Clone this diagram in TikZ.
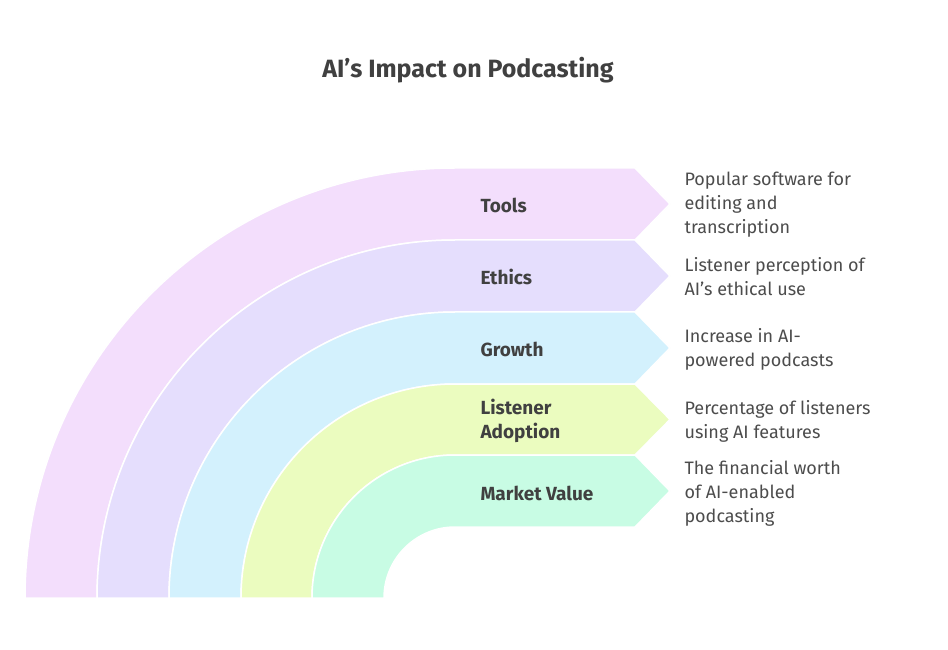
\documentclass[tikz,border=0pt]{standalone}
\usepackage{fontspec}
\setmainfont{Fira Sans}
\begin{document}
\begin{tikzpicture}[x=1pt,y=1pt,
  band/.style={draw=white,line width=1.5pt,line join=round},
  lab/.style={anchor=west,font=\bfseries\fontsize{19}{24}\selectfont,text=black!75,align=left},
  desc/.style={anchor=west,font=\fontsize{18}{24}\selectfont,text=black!70,align=left}]
\useasboundingbox (0,0) rectangle (948,649);
\definecolor{cA}{HTML}{F3DEFC}
\definecolor{cB}{HTML}{E5DEFD}
\definecolor{cC}{HTML}{D3F1FD}
\definecolor{cD}{HTML}{EBFCBF}
\definecolor{cE}{HTML}{C8FCE4}
\foreach \R/\r/\c in {430/358/cA,358/286/cB,286/214/cC,214/143/cD,143/71/cE}{
  \fill[\c,band] (455-\R,51) arc[start angle=180,end angle=90,radius=\R]
    -- (635,51+\R) -- (670,{51+(\R+\r)/2}) -- (635,51+\r) -- (455,51+\r)
    arc[start angle=90,end angle=180,radius=\r] -- cycle;
}
\node[font=\bfseries\fontsize{25}{28}\selectfont,text=black!75] (title) at (468,579) {AI's Impact on Podcasting};
\node[lab] (l1) at (477,444) {Tools};
\node[lab] (l2) at (477,372) {Ethics};
\node[lab] (l3) at (477,300) {Growth};
\node[lab] (l4) at (477,228) {Listener\\Adoption};
\node[lab] (l5) at (477,156) {Market Value};
\node[desc] (d1) at (681,444) {Popular software for\\editing and\\transcription};
\node[desc] (d2) at (681,372) {Listener perception of\\AI's ethical use};
\node[desc] (d3) at (681,300) {Increase in AI-\\powered podcasts};
\node[desc] (d4) at (681,228) {Percentage of listeners\\using AI features};
\node[desc] (d5) at (681,156) {The financial worth\\of AI-enabled\\podcasting};
\end{tikzpicture}
\end{document}
